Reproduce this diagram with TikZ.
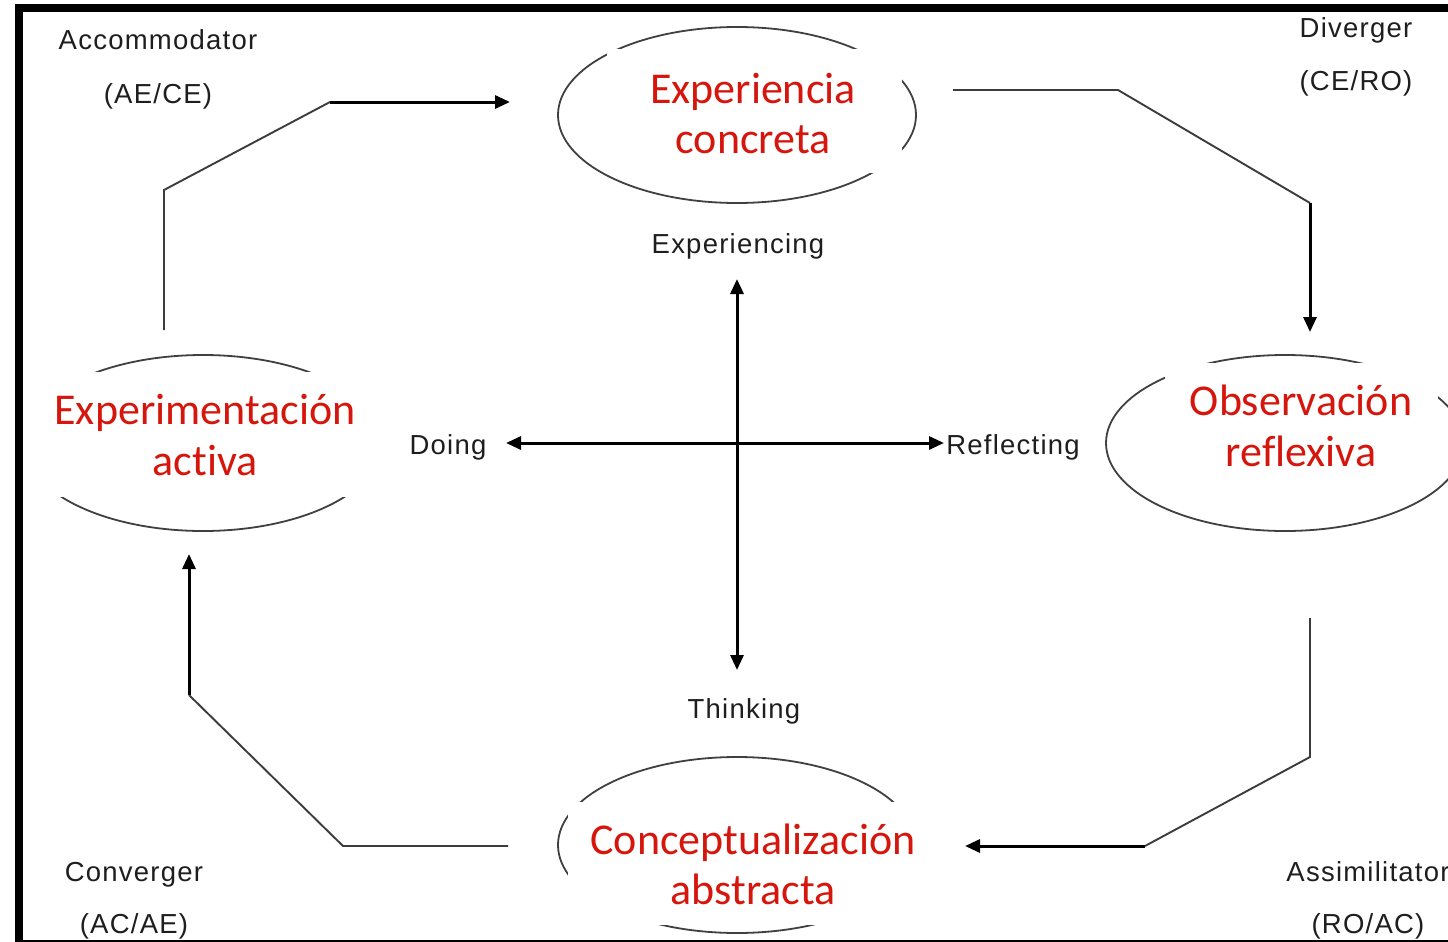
\documentclass[tikz,border=0pt]{standalone}
\usepackage{fontspec}
\setmainfont[LetterSpace=4.5]{Liberation Sans}
\newfontfamily\redfont[Ligatures=NoCommon]{Carlito}
\usetikzlibrary{shapes.geometric,arrows.meta}
\definecolor{kred}{RGB}{214,22,12}
\definecolor{ktxt}{RGB}{30,30,30}
\definecolor{kthin}{RGB}{60,60,60}
\tikzset{
  oval/.style={ellipse,draw=black!75,line width=1.8pt,minimum width=358pt,minimum height=176pt,inner sep=0pt,outer sep=0pt},
  mask/.style={fill=white,draw=none},
  redt/.style={text=kred,font=\redfont\fontsize{44}{50}\selectfont,anchor=base,inner sep=0pt},
  lbl/.style={text=ktxt,font=\fontsize{27.5}{32}\selectfont,anchor=base,inner sep=0pt},
  thinline/.style={draw=kthin,line width=1.9pt},
  thickline/.style={draw=black,line width=3pt},
  arr/.style={-{Triangle[length=15pt,width=13pt]}},
  darr/.style={{Triangle[length=15pt,width=13pt]}-{Triangle[length=15pt,width=13pt]}},
}
\begin{document}
\begin{tikzpicture}[x=1pt,y=-1pt]
\useasboundingbox (0,0) rectangle (1448,942);
\fill[white] (0,0) rectangle (1448,942);

% ellipses
\node[oval] (EC) at (737,115) {};
\node[oval] (EA) at (203,443) {};
\node[oval] (RO) at (1285,443) {};
\node[oval] (CA) at (737,845) {};
% white masks behind texts
\fill[mask] (607,49) rectangle (902,173);
\fill[mask] (0,372) rectangle (392,497);
\fill[mask] (1165,363) rectangle (1438,482);
\fill[mask] (568,802) rectangle (935,925);

% red texts
\node[redt] (ec1) at (753,103) {Experiencia};
\node[redt] (ec2) at (753,153) {concreta};
\node[redt] (ea1) at (205,424) {Experimentación};
\node[redt] (ea2) at (205,475) {activa};
\node[redt] (ro1) at (1301,415) {Observación};
\node[redt] (ro2) at (1301,466) {reflexiva};
\node[redt] (ca1) at (753,854) {Conceptualización};
\node[redt] (ca2) at (753,904) {abstracta};

% corner labels
\node[lbl] (acc) at (158,50) {Accommodator};
\node[lbl] (acc2) at (158,103) {(AE/CE)};
\node[lbl] (div) at (1356,38) {Diverger};
\node[lbl] (div2) at (1356,90) {(CE/RO)};
\node[lbl] (con) at (134,881) {Converger};
\node[lbl] (con2) at (134,933) {(AC/AE)};
\node[lbl] (ass) at (1368,881) {Assimilitator};
\node[lbl] (ass2) at (1368,933) {(RO/AC)};

% axis labels
\node[lbl] (exp) at (738,253) {Experiencing};
\node[lbl] (thi) at (744,718) {Thinking};
\node[lbl] (doi) at (448,454) {Doing};
\node[lbl] (ref) at (1013,454) {Reflecting};

% axis arrows
\coordinate (vt) at (737,279);
\coordinate (vb) at (737,670);
\coordinate (hl) at (506,443);
\coordinate (hr) at (944,443);
\draw[thickline,darr] (vb) -- (vt);
\draw[thickline,darr] (hr) -- (hl);

% cycle connectors
\coordinate (a1) at (164,330);
\coordinate (a2) at (164,190);
\coordinate (a3) at (330,102);
\coordinate (a4) at (510,102);
\draw[thinline] (a1) -- (a2) -- (a3);
\draw[thickline,arr] (a3) -- (a4);

\coordinate (b1) at (953,90);
\coordinate (b2) at (1118,90);
\coordinate (b3) at (1310,203);
\coordinate (b4) at (1310,332);
\draw[thinline] (b1) -- (b2) -- (b3);
\draw[thickline,arr] (b3) -- (b4);

\coordinate (c1) at (1310,618);
\coordinate (c2) at (1310,757);
\coordinate (c3) at (1145,846);
\coordinate (c4) at (965,846);
\draw[thinline] (c1) -- (c2) -- (c3);
\draw[thickline,arr] (c3) -- (c4);

\coordinate (d1) at (508,846);
\coordinate (d2) at (343,846);
\coordinate (d3) at (189,695);
\coordinate (d4) at (189,554);
\draw[thinline] (d1) -- (d2) -- (d3);
\draw[thickline,arr] (d3) -- (d4);

% frame
\fill[black] (15,4) rectangle (1448,12);
\fill[black] (15,4) rectangle (23,942);
\fill[black] (15,940) rectangle (1448,942);
\end{tikzpicture}
\end{document}
